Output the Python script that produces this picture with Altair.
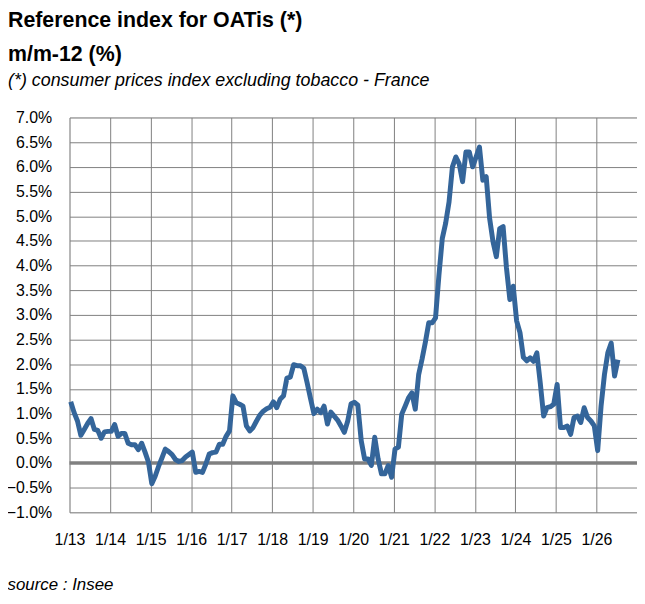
import altair as alt
import pandas as pd

# Monthly year-on-year values (%)
v2013 = [1.24, 1.02, 0.85, 0.56, 0.68, 0.80, 0.90, 0.68, 0.66, 0.50, 0.63, 0.64]
v2014 = [0.64, 0.78, 0.54, 0.60, 0.60, 0.40, 0.37, 0.37, 0.27, 0.40, 0.22, 0.02]
v2015 = [-0.42, -0.27, -0.07, 0.10, 0.28, 0.23, 0.17, 0.07, 0.03, 0.05, 0.12, 0.17]
v2016 = [0.22, -0.19, -0.17, -0.19, -0.02, 0.18, 0.21, 0.22, 0.38, 0.38, 0.54, 0.65]
v2017 = [1.36, 1.22, 1.19, 1.15, 0.75, 0.65, 0.72, 0.85, 0.97, 1.05, 1.10, 1.13]
v2018 = [1.24, 1.12, 1.29, 1.36, 1.72, 1.74, 1.99, 1.97, 1.97, 1.92, 1.62, 1.30]
v2019 = [1.00, 1.09, 1.02, 1.15, 0.79, 1.03, 0.95, 0.87, 0.75, 0.62, 0.85, 1.20]
v2020 = [1.23, 1.17, 0.45, 0.08, 0.08, -0.05, 0.52, 0.08, -0.22, -0.22, -0.05, -0.29]
v2021 = [0.28, 0.32, 0.99, 1.15, 1.32, 1.42, 1.09, 1.79, 2.10, 2.45, 2.84, 2.84]
v2022 = [2.94, 3.80, 4.55, 4.86, 5.29, 6.00, 6.20, 6.06, 5.70, 6.30, 6.30, 6.00]
v2023 = [6.20, 6.40, 5.73, 5.80, 4.96, 4.49, 4.18, 4.75, 4.79, 3.95, 3.31, 3.58]
v2024 = [2.88, 2.64, 2.14, 2.07, 2.13, 2.06, 2.23, 1.62, 0.95, 1.12, 1.14, 1.19]
v2025 = [1.59, 0.72, 0.72, 0.75, 0.58, 0.92, 0.95, 0.82, 1.12, 0.92, 0.85, 0.75]
v2026 = [0.25, 1.15, 1.79, 2.23, 2.43, 1.76, 2.09]

series = [v2013, v2014, v2015, v2016, v2017, v2018, v2019,
          v2020, v2021, v2022, v2023, v2024, v2025, v2026]
start_year = 2013

tick_years = list(range(2013, 2027))
y_ticks = [-1.0, -0.5, 0.0, 0.5, 1.0, 1.5, 2.0, 2.5, 3.0, 3.5,
           4.0, 4.5, 5.0, 5.5, 6.0, 6.5, 7.0]

rows = []
for yi, vals in enumerate(series):
    for mi, v in enumerate(vals):
        rows.append({"t": start_year + yi + mi / 12 + 0.03, "v": v})
df = pd.DataFrame(rows)

FONT = "Liberation Sans, Arial, sans-serif"
GRID = "#808080"

x_axis = alt.Axis(
    values=tick_years,
    labelExpr="'1/' + substring(toString(datum.value), 2, 4)",
    grid=True, gridColor=GRID, gridWidth=1, gridOpacity=1,
    ticks=False, tickSize=0, domain=False,
    labelFont=FONT, labelFontSize=16, labelColor="black", labelPadding=19,
    labelFlush=False, labelOverlap=False,
    title="source : Insee", titleFont=FONT, titleFontSize=17,
    titleFontStyle="italic", titleFontWeight="normal", titleColor="black",
    titleAnchor="start", titleAlign="left", titleBaseline="alphabetic",
    titleX=-63, titleY=78,
)
y_axis = alt.Axis(
    values=y_ticks,
    labelExpr="format(datum.value, '.1f') + '%'",
    grid=True, gridColor=GRID, gridWidth=1, gridOpacity=1,
    ticks=False, tickSize=0, domain=False,
    labelFont=FONT, labelFontSize=16, labelColor="black", labelPadding=18,
    labelFlush=False, labelOverlap=False,
    title=None,
)

yscale = alt.Scale(domain=[-1, 7], nice=False, zero=False)

zero = alt.Chart(pd.DataFrame({"z": [0.0]})).mark_rule(color=GRID, strokeWidth=3.5).encode(
    y=alt.Y("z:Q", scale=yscale, axis=y_axis)
)

line = alt.Chart(df).mark_line(color="#34659a", strokeWidth=5, strokeJoin="round").encode(
    x=alt.X("t:Q", scale=alt.Scale(domain=[2013, 2027], nice=False, zero=False), axis=x_axis),
    y=alt.Y("v:Q", scale=yscale, axis=y_axis),
)

chart = alt.layer(zero, line).properties(
    width=572,
    height=398,
    autosize=alt.AutoSizeParams(type="none"),
    padding={"left": 62, "top": 108, "right": 0, "bottom": 83},
    title=alt.TitleParams(
        text=["Reference index for OATis (*)", "m/m-12 (%)"],
        subtitle="(*) consumer prices index excluding tobacco - France",
        anchor="start", frame="group", dx=-62,
        font=FONT, fontSize=21.5, fontWeight="bold", color="black", lineHeight=35,
        subtitleFont=FONT, subtitleFontSize=18, subtitleFontStyle="italic",
        subtitleColor="black", subtitlePadding=6, offset=20,
    ),
).configure_view(stroke=GRID, strokeWidth=3.5).configure(background="white")

chart.save("out.html", embed_options={"renderer": "svg", "actions": False})
